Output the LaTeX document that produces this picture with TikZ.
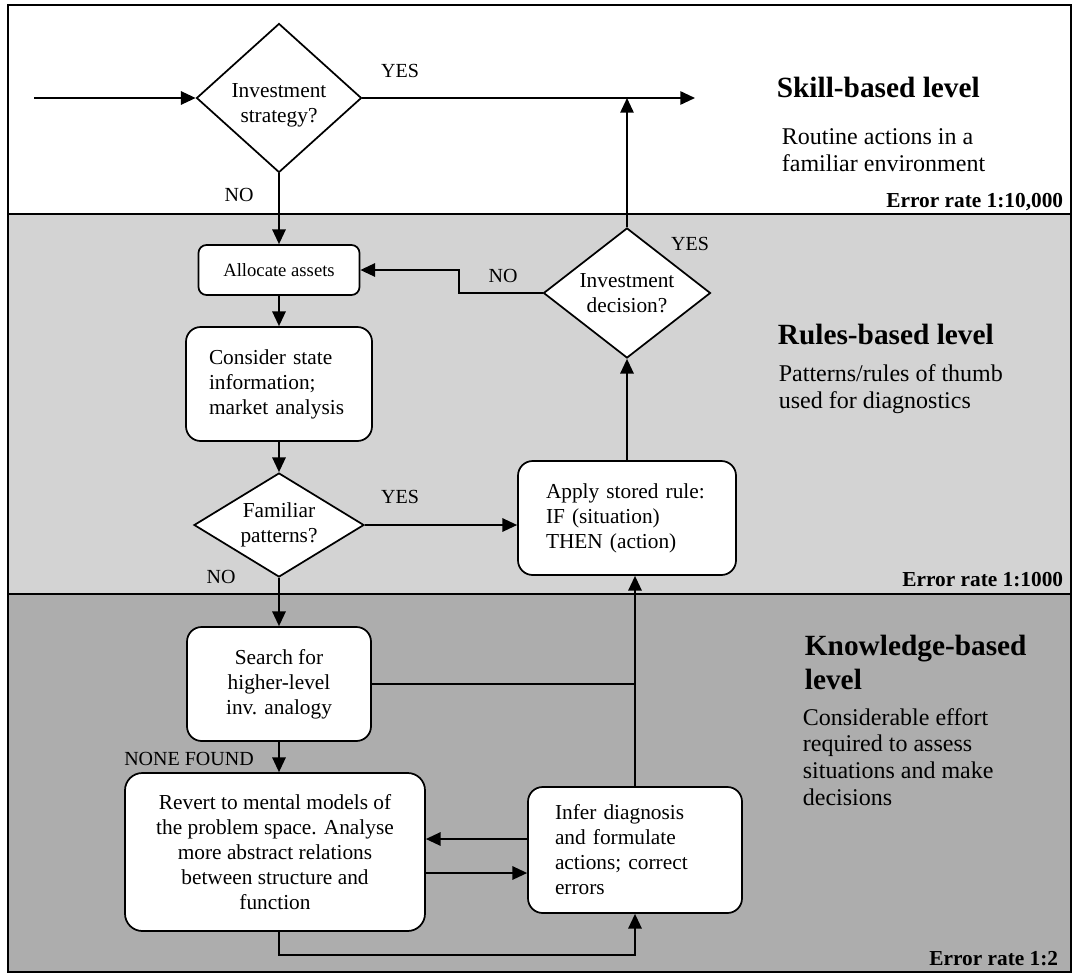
\documentclass[tikz,border=0pt]{standalone}
\usepackage{fontspec}
\setmainfont{Liberation Serif}
\usetikzlibrary{arrows.meta,positioning,calc,shapes.geometric}
\definecolor{rulesgray}{HTML}{D3D3D3}
\definecolor{knowgray}{HTML}{ADADAD}

\begin{document}
\begin{tikzpicture}[
  x=0.75pt, y=-0.75pt,
  line width=1.3pt,
  box/.style={draw,fill=white,rounded corners=11pt,inner sep=0pt,
              font=\fontsize{16}{18.75}\selectfont},
  dec/.style={draw,fill=white,diamond,inner sep=0pt,align=center,
              font=\fontsize{16}{18.75}\selectfont},
  lbl/.style={font=\fontsize{15}{18}\selectfont},
  hdr/.style={anchor=base west,align=left,inner sep=0pt,
              font=\bfseries\fontsize{22}{25.5}\selectfont},
  desc/.style={anchor=base west,align=left,inner sep=0pt,
               font=\fontsize{18}{20}\selectfont},
  err/.style={anchor=base east,inner sep=0pt,
              font=\bfseries\fontsize{16}{18}\selectfont},
  band/.style={line width=1.5pt},
  ar/.style={-{Triangle[length=11pt,width=10pt]}}
]
\useasboundingbox (0,0) rectangle (1073,974);

% the three levels
\fill[white] (8,5) rectangle (1071,214);
\fill[rulesgray] (8,214) rectangle (1071,594);
\fill[knowgray] (8,594) rectangle (1071,972);
\draw[band] (8,214) -- (1071,214);
\draw[band] (8,594) -- (1071,594);
\draw[band] (8,5) rectangle (1071,972);

% flow chart
\node[dec,aspect=1.1,minimum width=123.75pt,minimum height=111.75pt] (strat) at (279,98) {\rule{0pt}{21pt}Investment\\strategy?};
\node[box,rounded corners=6pt,minimum width=120.75pt,minimum height=37.5pt,
      font=\fontsize{14}{17}\selectfont] (alloc) at (279,270) {Allocate assets};
\node[box,minimum width=139.5pt,minimum height=85.5pt,text width=105pt,align=left] (cons) at (279,384) {Consider state\\information;\\market analysis};
\node[dec,aspect=1.63,minimum width=127.5pt,minimum height=78pt] (fam) at (279,525) {Familiar\\patterns?};
\node[dec,aspect=1.28,minimum width=125.25pt,minimum height=97.5pt] (decide) at (627,293) {Investment\\decision?};
\node[box,minimum width=163.5pt,minimum height=85.5pt,text width=121.5pt,align=left] (apply) at (627,518) {Apply stored rule:\\IF (situation)\\THEN (action)};
\node[box,minimum width=138pt,minimum height=85.5pt,align=center] (search) at (279,684) {Search for\\higher-level\\inv. analogy};
\node[box,rounded corners=13pt,minimum width=225pt,minimum height=118.5pt,align=center] (revert) at (275,852) {Revert to mental models of\\the problem space. Analyse\\more abstract relations\\between structure and\\function};
\node[box,minimum width=160.5pt,minimum height=94.5pt,text width=120pt,align=left] (infer) at (635,850) {Infer diagnosis\\and formulate\\actions; correct\\errors};

\coordinate (in) at (34,98);
\coordinate (out) at (695,98);

% branch labels
\node[lbl] (yes1) at (400,71) {YES};
\node[lbl] (no1) at (239,195) {NO};
\node[lbl] (yes2) at (690,244) {YES};
\node[lbl] (no2) at (503,276) {NO};
\node[lbl] (yes3) at (400,497) {YES};
\node[lbl] (no3) at (221,577) {NO};
\node[lbl] (none) at (189,759) {NONE FOUND};

% level texts (base = last line)
\node[hdr] (skill) at (776,97) {Skill-based level};
\node[desc] (skilltxt) at (781,171) {Routine actions in a\\familiar environment};
\node[err] (err1) at (1064,207) {Error rate 1:10,000};
\node[hdr] (rules) at (777,344) {Rules-based level};
\node[desc] (rulestxt) at (778,408) {Patterns/rules of thumb\\used for diagnostics};
\node[err] (err2) at (1064,586) {Error rate 1:1000};
\node[hdr] (know) at (804,689) {Knowledge-based\\level};
\node[desc] (knowtxt) at (802,805) {Considerable effort\\required to assess\\situations and make\\decisions};
\node[err] (err3) at (1059,965) {Error rate 1:2};

% connectors
\draw[ar] (in) -- (strat.west);
\draw[ar] (strat.east) -- (out);
\draw[ar] (strat.south) -- (alloc.north);
\draw[ar] (decide.north) -- (decide.north |- out);
\draw[ar] (decide.west) -- ++(-84,0) |- (alloc.east);
\draw[ar] (alloc.south) -- (cons.north);
\draw[ar] (cons.south) -- (fam.north);
\draw[ar] (fam.east) -- (fam.east -| apply.west);
\draw[ar] (fam.south) -- (search.north);
\draw[ar] (apply.north) -- (decide.south);
\draw[ar] (infer.north) -- (infer.north |- apply.south);
\draw (search.east) -- (search.east -| infer.north);
\draw[ar] (search.south) -- (search.south |- revert.north);
\draw[ar] ([yshift=8.25pt]infer.west) -- ([yshift=8.25pt]infer.west -| revert.east);
\draw[ar] ([yshift=-15.75pt]revert.east) -- ([yshift=-15.75pt]revert.east -| infer.west);
\draw[ar] ([xshift=3pt]revert.south) -- ++(0,23) -| (infer.south);
\end{tikzpicture}
\end{document}
